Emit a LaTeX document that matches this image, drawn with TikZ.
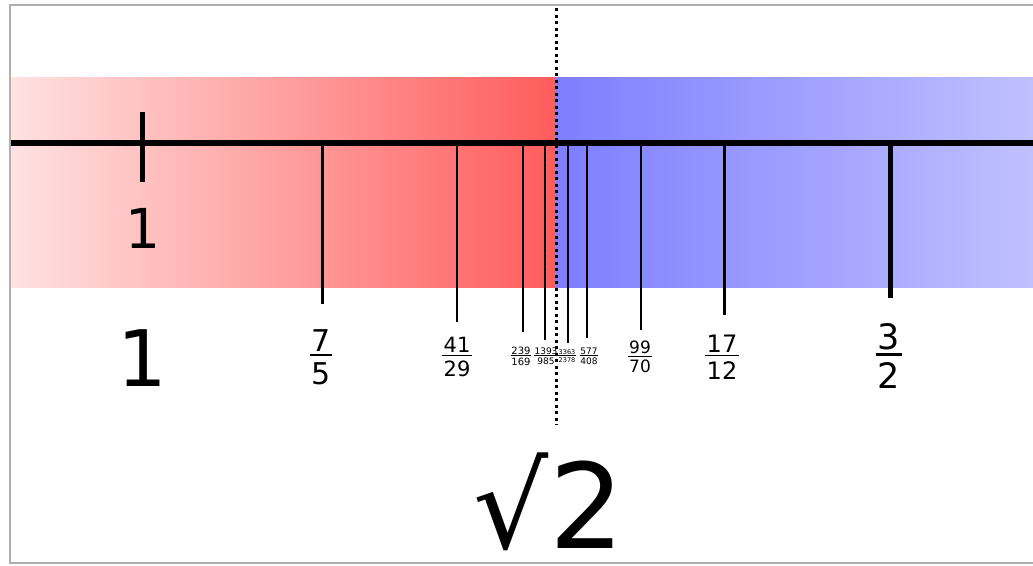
\documentclass[tikz,border=0pt]{standalone}
\usepackage{fontspec}
\setmainfont{DejaVu Sans}
\newcommand\fsz[1]{\fontsize{#1}{#1}\selectfont}
\newcommand\stackfrac[2]{\vbox{\halign{\hfil\kern0.06em##\kern0.06em\hfil\cr #1\cr\noalign{\kern0.1em\hrule height0.07em\kern0.2em}#2\cr}}}
\definecolor{redL}{RGB}{255,226,226}
\definecolor{redR}{RGB}{255,92,92}
\definecolor{blueL}{RGB}{126,126,255}
\definecolor{blueR}{RGB}{192,192,255}
\definecolor{framegray}{RGB}{175,175,175}
\tikzset{
  numlabel/.style={inner sep=0pt, text=black},
  tickline/.style={line width=#1, black},
  tickline/.default=2pt,
}
\begin{document}
\begin{tikzpicture}[x=1pt,y=-1pt]
\useasboundingbox (0,0) rectangle (1033,565);
\fill[white] (0,0) rectangle (1033,565);
% frame
\draw[framegray, line width=2pt] (1033,5) -- (10,5) -- (10,563) -- (1033,563);
% bands
\shade[left color=redL, right color=redR] (11,77) rectangle (556,287);
\shade[left color=blueL, right color=blueR] (556,77) rectangle (1033,287);
% axis
\coordinate (axL) at (11,143);
\coordinate (axR) at (1033,143);
\draw[tickline=6pt] (axL) -- (axR);
% tick at 1
\coordinate (oneT) at (142,112);
\coordinate (oneB) at (142,182);
\draw[tickline=5pt] (oneT) -- (oneB);
% approximant ticks
\foreach \nm/\x/\yb/\w in {a/322/304/3pt, b/457/322/2pt, c/523/332/2pt, d/545/340/2pt, e/568/343/2pt, f/587/338/2pt, g/641/330/2pt, h/724/315/3pt, i/890/298/5pt}{
  \coordinate (t\nm) at (\x,143);
  \coordinate (b\nm) at (\x,\yb);
  \draw[tickline=\w] (t\nm) -- (b\nm);
}
% dotted line
\coordinate (dotT) at (556,8);
\coordinate (dotB) at (556,425);
\draw[line width=3pt, dash pattern=on 3pt off 3.5pt] (dotT) -- (dotB);
% labels
\node[numlabel, font=\fsz{55}] (lab1) at (143,228) {1};
\node[numlabel, font=\fsz{78}] (big1) at (142,358) {1};
\node[numlabel, font=\fsz{30}] (f75) at (321,357) {\stackfrac{7}{5}};
\node[numlabel, font=\fsz{21}] (f4129) at (457,357) {\stackfrac{41}{29}};
\node[numlabel, font=\fsz{10}] (f239) at (521,356) {\stackfrac{239}{169}};
\node[numlabel, font=\fsz{9}] (f1393) at (546,356) {\stackfrac{1393}{985}};
\node[numlabel, font=\fsz{6.5}] (f3363) at (567,356) {\stackfrac{3363}{2378}};
\node[numlabel, font=\fsz{9}] (f577) at (589,356) {\stackfrac{577}{408}};
\node[numlabel, font=\fsz{17}] (f9970) at (640,357) {\stackfrac{99}{70}};
\node[numlabel, font=\fsz{24}] (f1712) at (722,357) {\stackfrac{17}{12}};
\node[numlabel, font=\fsz{35}] (f32) at (889,356) {\stackfrac{3}{2}};
\node[numlabel, font=\fsz{118}] (sqrt2) at (549,502) {√2};
\end{tikzpicture}
\end{document}
